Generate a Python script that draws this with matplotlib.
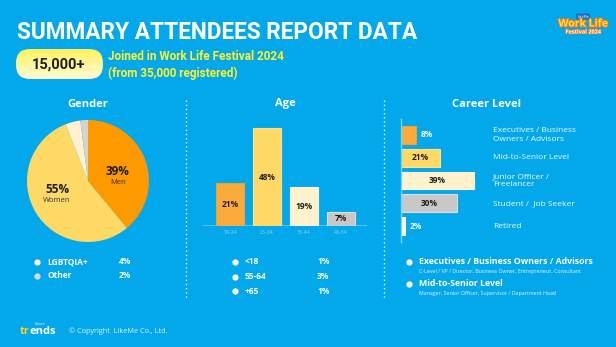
import matplotlib
matplotlib.use("Agg")
import matplotlib.pyplot as plt
import numpy as np
from matplotlib.patches import FancyBboxPatch
import matplotlib.patheffects as pe

# ---------------- data ----------------
gender_labels = ["Men", "Women", "LGBTQIA+", "Other"]
gender_values = [39, 55, 4, 2]

age_labels = ["18-24", "25-34", "35-44", "45-54"]
age_values = [21, 48, 19, 7]
age_other_labels = ["<18", "55-64", "+65"]
age_other_values = ["1%", "3%", "1%"]

career_labels = ["Executives / Business\nOwners / Advisors", "Mid-to-Senior Level",
                 "Junior Officer /\nFreelancer", "Student /  Job Seeker", "Retired"]
career_values = [8, 21, 39, 30, 2]

notes_titles = ["Executives / Business Owners / Advisors", "Mid-to-Senior Level"]
notes_sub = ["C-Level / VP / Director, Business Owner, Entrepreneur, Consultant",
             "Manager, Senior Officer, Supervisor / Department Head"]

# ---------------- style ----------------
BG = "#02A8EA"
ORANGE = "#FF9900"
ORANGE2 = "#FBAA3C"
YELLOW = "#FFD966"
CREAM = "#FFF2CC"
GREY = "#D3D3D3"
DARK = "#1E1E1E"
FONT = "Open Sans"
plt.rcParams["font.family"] = [FONT, "DejaVu Sans"]
HEAD = ["Roboto", "DejaVu Sans"]

W, H = 616, 347
fig = plt.figure(figsize=(W / 100, H / 100), dpi=100, facecolor=BG)
bg = fig.add_axes([0, 0, 1, 1])
bg.set_xlim(0, W)
bg.set_ylim(H, 0)
bg.axis("off")
bg.set_facecolor(BG)


def px_axes(x0, y0, x1, y1):
    """axes from pixel box (top-left origin)"""
    return fig.add_axes([x0 / W, (H - y1) / H, (x1 - x0) / W, (y1 - y0) / H])


# ---------------- header ----------------
bg.text(17, 32, "SUMMARY ATTENDEES REPORT DATA", color="white", fontsize=16.3,
        fontweight="bold", va="center", ha="left", family=HEAD)

# pill with gradient
pill = FancyBboxPatch((16, 49), 87, 30, boxstyle="round,pad=0,rounding_size=14",
                      facecolor="none", edgecolor="none", transform=bg.transData)
bg.add_patch(pill)
grad = np.linspace(0, 1, 64).reshape(-1, 1)
cmap = matplotlib.colors.LinearSegmentedColormap.from_list("pg", ["#FFF35C", "#FFFBD9"])
im = bg.imshow(grad, cmap=cmap, extent=(16, 103, 79, 49), aspect="auto", zorder=2)
im.set_clip_path(pill)
bg.text(59, 64.5, "15,000+", color=DARK, fontsize=10.5, fontweight="bold",
        ha="center", va="center", zorder=3, family=HEAD)
bg.text(108, 56, "Joined in Work Life Festival 2024", color="#FFF22A", fontsize=8.5,
        fontweight="bold", ha="left", va="center", family=HEAD)
bg.text(108, 73, "(from 35,000 registered)", color="#FFF22A", fontsize=8.5,
        fontweight="bold", ha="left", va="center", family=HEAD)

# logo
bg.text(583, 16.5, "LikeMe", color="white", fontsize=2.5, ha="center", va="center",
        bbox=dict(boxstyle="round,pad=0.3", fc="#1C6FC0", ec="none"))
bg.text(583, 24, "Work Life", color="#FFE14D", fontsize=7.5, fontweight="bold",
        ha="center", va="center",
        path_effects=[pe.withStroke(linewidth=1.5, foreground="#F07A1E")])
bg.text(583, 32, "Festival 2024", color="white", fontsize=4, fontweight="bold",
        ha="center", va="center",
        path_effects=[pe.withStroke(linewidth=1, foreground="#F07A1E")])

# dotted dividers
bg.plot([186, 186], [100, 298], color="white", lw=1, ls=(0, (1, 2)), alpha=0.85)
bg.plot([384, 384], [100, 298], color="white", lw=1, ls=(0, (1, 2)), alpha=0.85)

# section titles
bg.text(88, 104, "Gender", color="white", fontsize=8, fontweight="bold", ha="center", va="center")
bg.text(285, 103, "Age", color="white", fontsize=8, fontweight="bold", ha="center", va="center")
bg.text(487, 104, "Career Level", color="white", fontsize=8, fontweight="bold", ha="center", va="center")

# ---------------- gender pie ----------------
axp = px_axes(27, 120, 149, 242)
axp.pie(gender_values, colors=[ORANGE, YELLOW, CREAM, GREY], startangle=90,
        counterclock=False, radius=1, wedgeprops=dict(linewidth=0))
axp.set_xlim(-1, 1)
axp.set_ylim(-1, 1)
axp.set_aspect("auto")
for (x, y), v, lab in zip([(118, 171), (57, 189)], gender_values[:2], gender_labels[:2]):
    axp.text(x, y, f"{v}%", color=DARK, fontsize=8.5, fontweight="bold",
             ha="center", va="center", transform=bg.transData)
    axp.text(x, y + 11, lab, color="#333333", fontsize=5.5, ha="center", va="center",
             transform=bg.transData)

for i, (lab, val, c) in enumerate(zip(gender_labels[2:], gender_values[2:], ["#FFFBEA", "#DADADA"])):
    y = 262 + i * 14
    bg.plot(37, y, "o", color=c, markersize=4.5, markeredgewidth=0)
    bg.text(47, y, lab, color="white", fontsize=6, fontweight="bold", ha="left", va="center")
    bg.text(119, y, f"{val}%", color="white", fontsize=6, fontweight="bold", ha="left", va="center")

# ---------------- age bars ----------------
axa = px_axes(202, 120, 367, 226)
axa.set_facecolor("none")
xa = np.arange(len(age_values))
axa.bar(xa, age_values, width=0.76, color=[ORANGE2, YELLOW, CREAM, "#C8C8C8"],
        edgecolor=["#F5A02C", "#FFE38A", "#FFF8DD", "#DDDDDD"], linewidth=0.8, zorder=2)
axa.set_xlim(-0.757, 3.703)
axa.set_ylim(0, 52)
for s in axa.spines.values():
    s.set_visible(False)
axa.set_yticks([])
axa.set_xticks(xa)
axa.set_xticklabels(age_labels, color="#8FD6F5", fontsize=3.8)
axa.tick_params(axis="x", length=0, pad=3)
axa.axhline(0, color="#5CC4F0", lw=2, zorder=1)
for x, v in zip(xa, age_values):
    axa.text(x, v / 2, f"{v}%", color=DARK, fontsize=6, fontweight="bold",
             ha="center", va="center", zorder=3)

for i, (lab, val) in enumerate(zip(age_other_labels, age_other_values)):
    y = 262 + i * 14.5
    bg.plot(235, y, "o", color="white", markersize=4.5, markeredgewidth=0)
    bg.text(245, y, lab, color="white", fontsize=6, fontweight="bold", ha="left", va="center")
    bg.text(317, y, val, color="white", fontsize=6, fontweight="bold", ha="left", va="center")

# ---------------- career bars ----------------
axc = px_axes(401, 119, 491, 242)
axc.set_facecolor("none")
yc = np.arange(len(career_values))
axc.barh(yc, career_values, height=0.79,
         color=[ORANGE2, YELLOW, CREAM, "#C8C8C8", "white"],
         edgecolor=["#F5A02C", "#FFE38A", "#FFF8DD", "#DDDDDD", "white"], linewidth=0.8, zorder=2)
axc.set_xlim(0, 48)
axc.set_ylim(4.70, -0.70)
for k, s in axc.spines.items():
    s.set_visible(k == "left")
axc.spines["left"].set_color("#7ED2F6")
axc.spines["left"].set_linewidth(1)
axc.set_xticks([])
axc.set_yticks([])
for y, v in zip(yc, career_values):
    if v < 10:
        axc.text(v + 6, y, f"{v}%", color="white", fontsize=6, fontweight="bold",
                 ha="center", va="center")
    else:
        axc.text(v / 2, y, f"{v}%", color=DARK, fontsize=6, fontweight="bold",
                 ha="center", va="center")
for y, lab in zip(yc, career_labels):
    yy = 135 + y * 22.75
    bg.text(493, yy, lab, color="white", fontsize=6, ha="left", va="center",
            linespacing=1.25, alpha=0.95)

for i, (t, s) in enumerate(zip(notes_titles, notes_sub)):
    y = 262 + i * 22
    bg.plot(409, y, "o", color="white", markersize=4.5, markeredgewidth=0)
    bg.text(419, y, t, color="white", fontsize=6.3, fontweight="bold", ha="left", va="center")
    bg.text(419, y + 9.5, s, color="#E8F6FD", fontsize=3.8, ha="left", va="center")

# ---------------- footer ----------------
bg.text(40, 324, "Future", color="white", fontsize=2.5, ha="center", va="center")
bg.text(20, 332, "tr", color="#FFD21F", fontsize=8, fontweight="bold", ha="left", va="center")
bg.text(29.5, 332, "ends", color="white", fontsize=8, fontweight="bold", ha="left", va="center")
bg.text(69, 331, "© Copyright  LikeMe Co., Ltd.", color="#E3F4FC", fontsize=5.2,
        ha="left", va="center")

fig.savefig("out.png", dpi=100, facecolor=BG)
